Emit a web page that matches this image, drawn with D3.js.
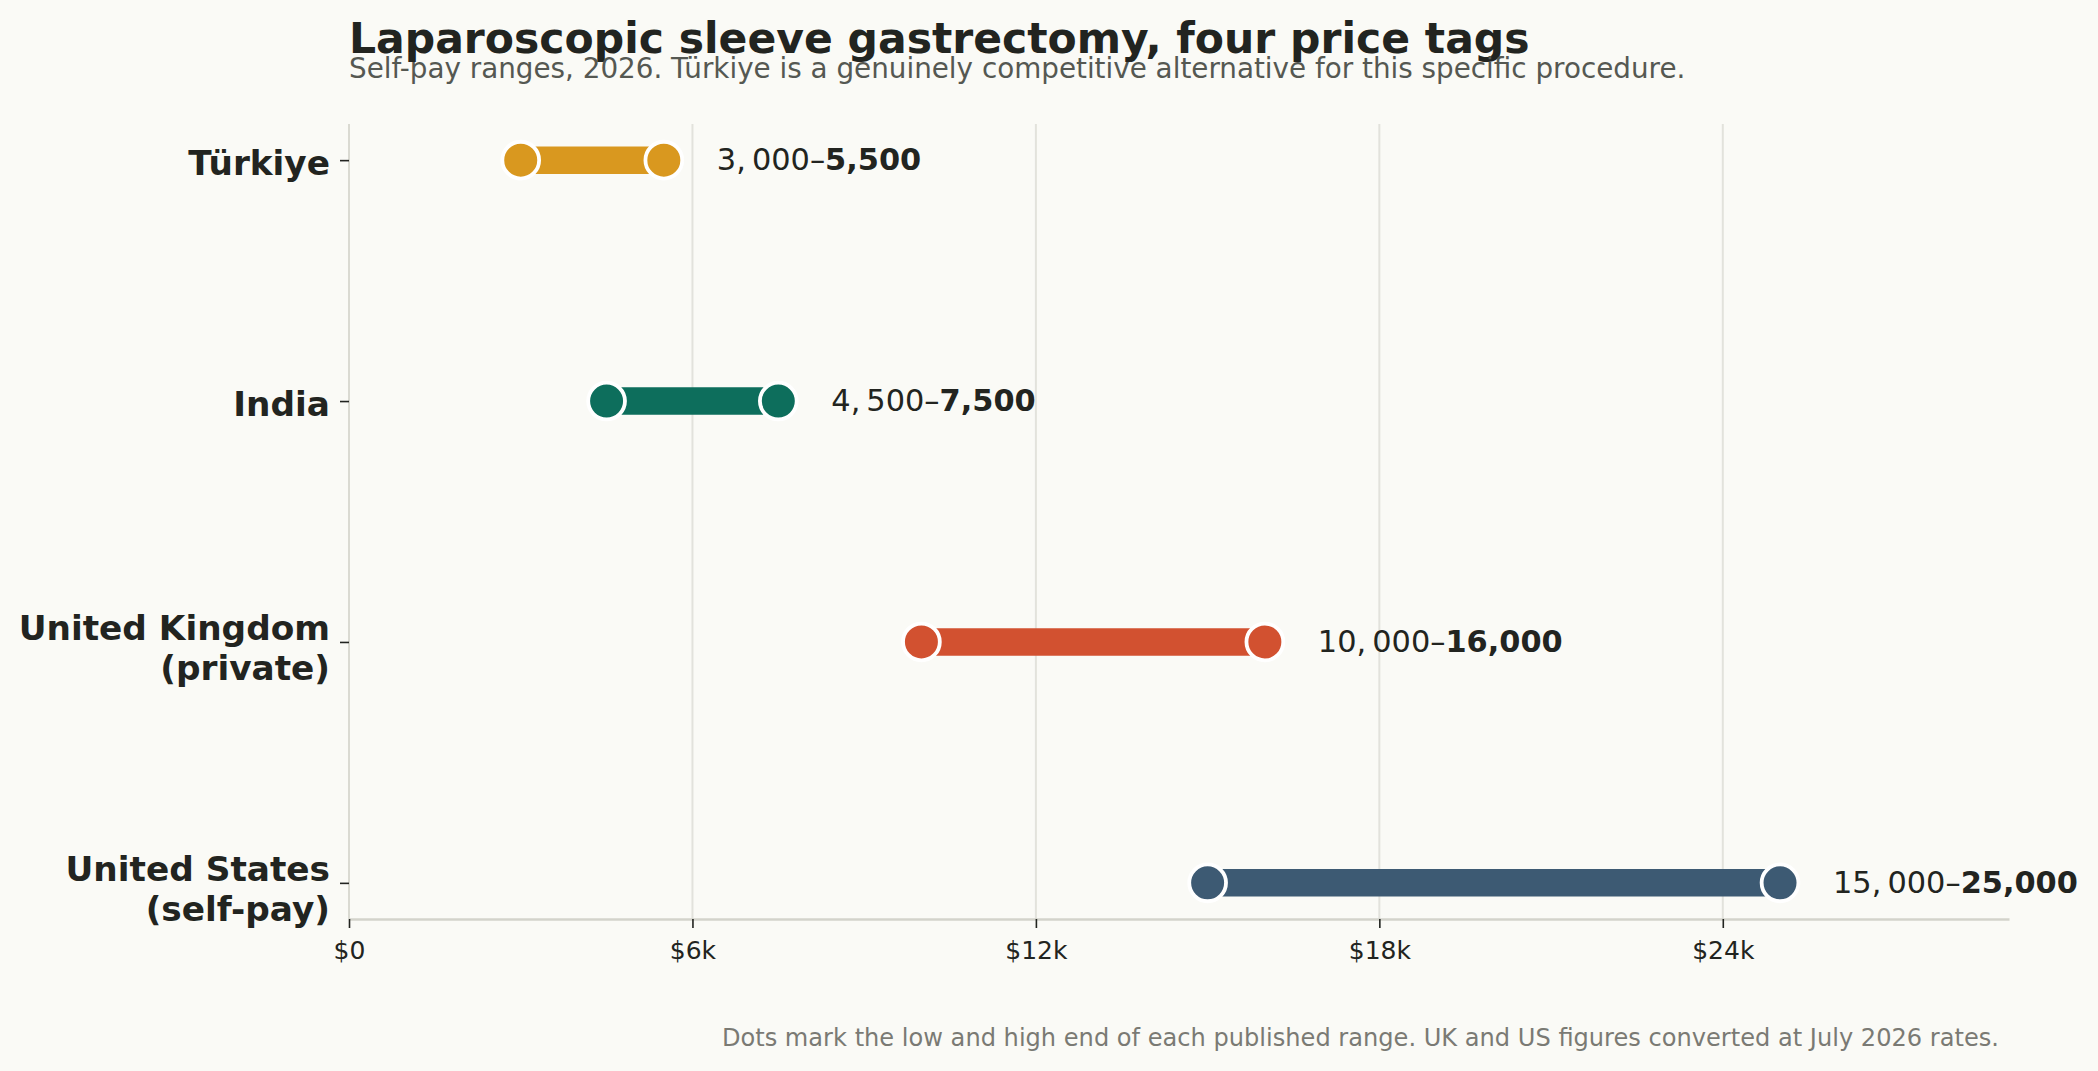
<!DOCTYPE html>
<html>
<head>
<meta charset="utf-8">
<script src="https://cdn.jsdelivr.net/npm/d3@7"></script>
<style>
  html, body { margin: 0; padding: 0; background: #FAFAF6; }
  svg { display: block; font-family: "DejaVu Sans", sans-serif; }
</style>
</head>
<body>
<svg id="chart" width="2098" height="1071"></svg>
<script>
// ---- data ----
const countries = ["Türkiye", "India", "United Kingdom\n(private)", "United States\n(self-pay)"];
const lows = [3000, 4500, 10000, 15000];
const highs = [5500, 7500, 16000, 25000];
const colors = ["#D9981F", "#0D6E5C", "#D25130", "#3D5A73"];
const xTickValues = [0, 6000, 12000, 18000, 24000];
const xTickLabels = ["$0", "$6k", "$12k", "$18k", "$24k"];

const titleText = "Laparoscopic sleeve gastrectomy, four price tags";
const subtitleText = "Self-pay ranges, 2026. Türkiye is a genuinely competitive alternative for this specific procedure.";
const footerText = "Dots mark the low and high end of each published range. UK and US figures converted at July 2026 rates.";

// ---- layout ----
const W = 2098, H = 1071;
const plot = { left: 349, right: 2009, top: 124, bottom: 919 };
const svg = d3.select("#chart");
svg.append("rect").attr("width", W).attr("height", H).attr("fill", "#FAFAF6");

const x = d3.scaleLinear().domain([0, 29000]).range([plot.left, plot.right]);
const y = d3.scaleLinear().domain([-0.15, 3.15]).range([plot.top, plot.bottom]);

const rows = countries.map((c, i) => ({ name: c, low: lows[i], high: highs[i], color: colors[i], i }));

// gridlines
svg.append("g").selectAll("line").data(xTickValues.filter(v => v > 0)).join("line")
  .attr("x1", d => x(d)).attr("x2", d => x(d))
  .attr("y1", plot.top).attr("y2", plot.bottom)
  .attr("stroke", "#E2E2DC").attr("stroke-width", 2);

// left spine
svg.append("line")
  .attr("x1", plot.left).attr("x2", plot.left)
  .attr("y1", plot.top).attr("y2", plot.bottom)
  .attr("stroke", "#DADAD2").attr("stroke-width", 2);

// x axis
const xAxis = svg.append("g")
  .attr("transform", `translate(0,${plot.bottom})`)
  .call(d3.axisBottom(x).tickValues(xTickValues)
        .tickFormat((d, i) => xTickLabels[i]).tickSize(9).tickPadding(13).tickSizeOuter(0));
xAxis.select(".domain").attr("stroke", "#D3D3CB").attr("stroke-width", 2.5);
xAxis.selectAll(".tick line").attr("stroke", "#222420").attr("stroke-width", 1.6);
xAxis.selectAll(".tick text").attr("fill", "#222420")
  .style("font-size", "25px").style("font-family", "DejaVu Sans");

// y axis ticks
const yAxis = svg.append("g")
  .attr("transform", `translate(${plot.left},0)`)
  .call(d3.axisLeft(y).tickValues(rows.map(r => r.i)).tickFormat("").tickSize(9).tickSizeOuter(0));
yAxis.select(".domain").remove();
yAxis.selectAll(".tick line").attr("stroke", "#222420").attr("stroke-width", 1.6);

// y labels
const lineH = 40.5;
svg.append("g").selectAll("text").data(rows).join("text")
  .attr("text-anchor", "end")
  .attr("fill", "#222420")
  .style("font-size", "34.3px").style("font-weight", "bold")
  .each(function(d) {
    const lines = d.name.split("\n");
    const base = y(d.i) + 14.5 - (lines.length - 1) * lineH * 0.41;
    d3.select(this).selectAll("tspan").data(lines).join("tspan")
      .attr("x", 330).attr("y", (l, k) => base + k * lineH).text(l => l);
  });

// bars
svg.append("g").selectAll("line").data(rows).join("line")
  .attr("x1", d => x(d.low)).attr("x2", d => x(d.high))
  .attr("y1", d => y(d.i)).attr("y2", d => y(d.i))
  .attr("stroke", d => d.color).attr("stroke-width", 27.5).attr("stroke-linecap", "butt");

// dots
const dots = rows.flatMap(r => [{ v: r.low, r }, { v: r.high, r }]);
svg.append("g").selectAll("circle").data(dots).join("circle")
  .attr("cx", d => x(d.v)).attr("cy", d => y(d.r.i))
  .attr("r", 18.4)
  .attr("fill", d => d.r.color)
  .attr("stroke", "#FFFFFF").attr("stroke-width", 3.8);

// range labels
const fmt = d3.format(",");
svg.append("g").selectAll("text").data(rows).join("text")
  .attr("x", d => x(d.high) + 53)
  .attr("y", d => y(d.i) + 9.8)
  .attr("fill", "#222420")
  .style("font-size", "30.4px")
  .each(function(d) {
    const t = d3.select(this);
    t.append("tspan").text(fmt(d.low).replace(",", ",\u2009") + "\u2013");
    t.append("tspan").style("font-weight", "bold").text(fmt(d.high));
  });

// titles
svg.append("text").attr("x", 349).attr("y", 53)
  .attr("fill", "#222420").style("font-size", "42.5px").style("font-weight", "bold")
  .text(titleText);
svg.append("text").attr("x", 349).attr("y", 78)
  .attr("fill", "#555852").style("font-size", "27.8px")
  .text(subtitleText);
svg.append("text").attr("x", 1999).attr("y", 1046)
  .attr("text-anchor", "end")
  .attr("fill", "#7A7A74").style("font-size", "24.1px")
  .text(footerText);
</script>
</body>
</html>
